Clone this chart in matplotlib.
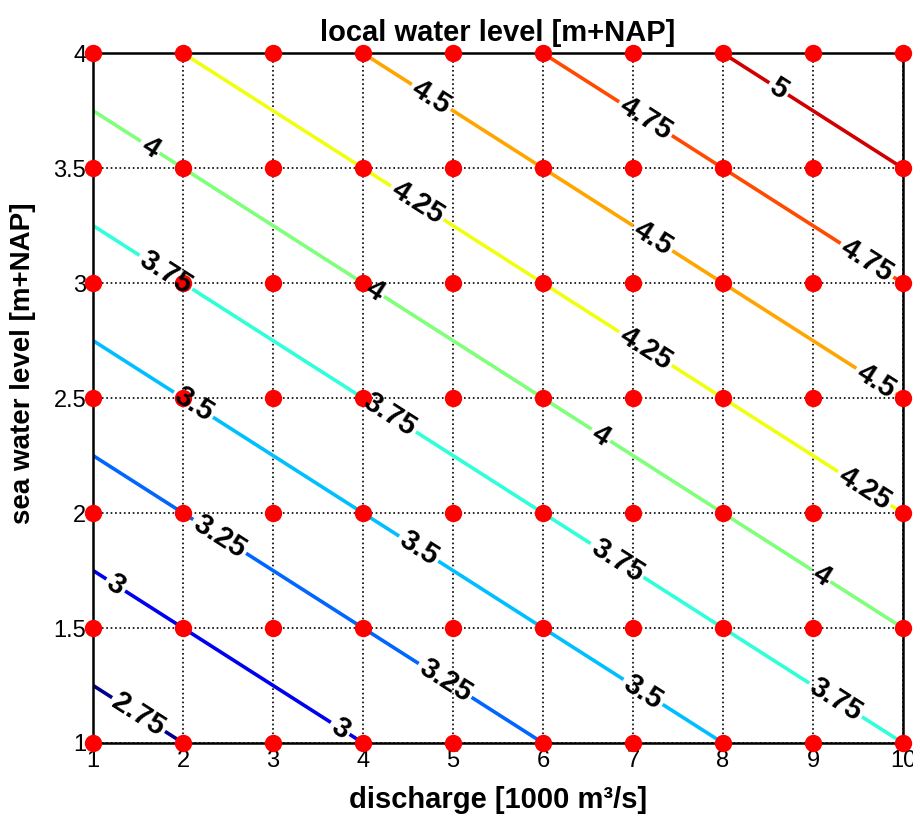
import matplotlib

matplotlib.use("Agg")
import matplotlib.pyplot as plt  # noqa: E402
import numpy as np  # noqa: E402

plt.rcParams["font.family"] = ["Liberation Sans", "DejaVu Sans"]

# grid of the computations
discharge = [1, 2, 3, 4, 5, 6, 7, 8, 9, 10]          # 1000 m3/s
sea_level = [1.0, 1.5, 2.0, 2.5, 3.0, 3.5, 4.0]       # m+NAP

# local water level [m+NAP], one row per sea level
local_level = [
    [2.625, 2.750, 2.875, 3.000, 3.125, 3.250, 3.375, 3.500, 3.625, 3.750],
    [2.875, 3.000, 3.125, 3.250, 3.375, 3.500, 3.625, 3.750, 3.875, 4.000],
    [3.125, 3.250, 3.375, 3.500, 3.625, 3.750, 3.875, 4.000, 4.125, 4.250],
    [3.375, 3.500, 3.625, 3.750, 3.875, 4.000, 4.125, 4.250, 4.375, 4.500],
    [3.625, 3.750, 3.875, 4.000, 4.125, 4.250, 4.375, 4.500, 4.625, 4.750],
    [3.875, 4.000, 4.125, 4.250, 4.375, 4.500, 4.625, 4.750, 4.875, 5.000],
    [4.125, 4.250, 4.375, 4.500, 4.625, 4.750, 4.875, 5.000, 5.125, 5.250],
]
levels = [2.75, 3.0, 3.25, 3.5, 3.75, 4.0, 4.25, 4.5, 4.75, 5.0]

# matlab-ish jet colours, one per level
LEVEL_COLORS = ["#00008C", "#0000F0", "#0066FF", "#00BFFF", "#30FFD8",
                "#80FF7A", "#F0FF10", "#FFA500", "#FF4A00", "#D00000"]

# where the contour labels sit (x, y)
LABEL_POS = [
    (1.45, 1.09),
    (1.24, 1.68), (3.74, 1.06),
    (2.36, 1.87), (4.86, 1.24),
    (2.08, 2.45), (4.61, 1.84), (7.06, 1.19),
    (1.78, 3.03), (4.30, 2.43), (6.80, 1.78), (9.24, 1.18),
    (1.60, 3.57), (4.10, 2.95), (6.63, 2.33), (9.08, 1.72),
    (4.54, 3.31), (7.08, 2.68), (9.56, 2.10),
    (4.71, 3.78), (7.21, 3.19), (9.69, 2.57),
    (7.13, 3.71), (9.60, 3.10),
    (8.61, 3.84),
]

TICK_FS = 17
LABEL_FS = 21
CLABEL_FS = 21

X, Y = np.meshgrid(discharge, sea_level)
Z = np.asarray(local_level)

fig = plt.figure(figsize=(9.13, 8.32), dpi=100)
ax = fig.add_axes([0.102, 0.107, 0.887, 0.829])

ax.grid(True, color="black", linestyle=":", linewidth=1.2, zorder=1)
ax.set_axisbelow(True)

cs = ax.contour(X, Y, Z, levels=levels, colors=LEVEL_COLORS,
                linewidths=2.6, zorder=2)
labels = ax.clabel(cs, inline=True, inline_spacing=3, fontsize=CLABEL_FS,
                   colors="black", fmt=lambda v: f"{v:g}", manual=LABEL_POS)
for t in labels:
    t.set_fontweight("bold")
    t.set_zorder(5)

ax.plot(X.ravel(), Y.ravel(), "o", color="red", markersize=12.5,
        markeredgewidth=0, clip_on=False, zorder=4)

ax.set_xlim(1, 10)
ax.set_ylim(1, 4)
ax.set_xticks(discharge)
ax.set_yticks(sea_level)
ax.set_yticklabels([f"{v:g}" for v in sea_level])
ax.tick_params(direction="in", length=5, width=1, labelsize=TICK_FS, pad=5)
for s in ax.spines.values():
    s.set_linewidth(1.8)
    s.set_zorder(3)

ax.set_title("local water level [m+NAP]", fontsize=LABEL_FS, fontweight="bold", pad=9)
ax.set_xlabel("discharge [1000 m³/s]", fontsize=LABEL_FS, fontweight="bold", labelpad=10)
ax.set_ylabel("sea water level [m+NAP]", fontsize=20, fontweight="bold")
ax.yaxis.set_label_coords(-0.071, 0.55)

fig.savefig("out.png", dpi=100)
